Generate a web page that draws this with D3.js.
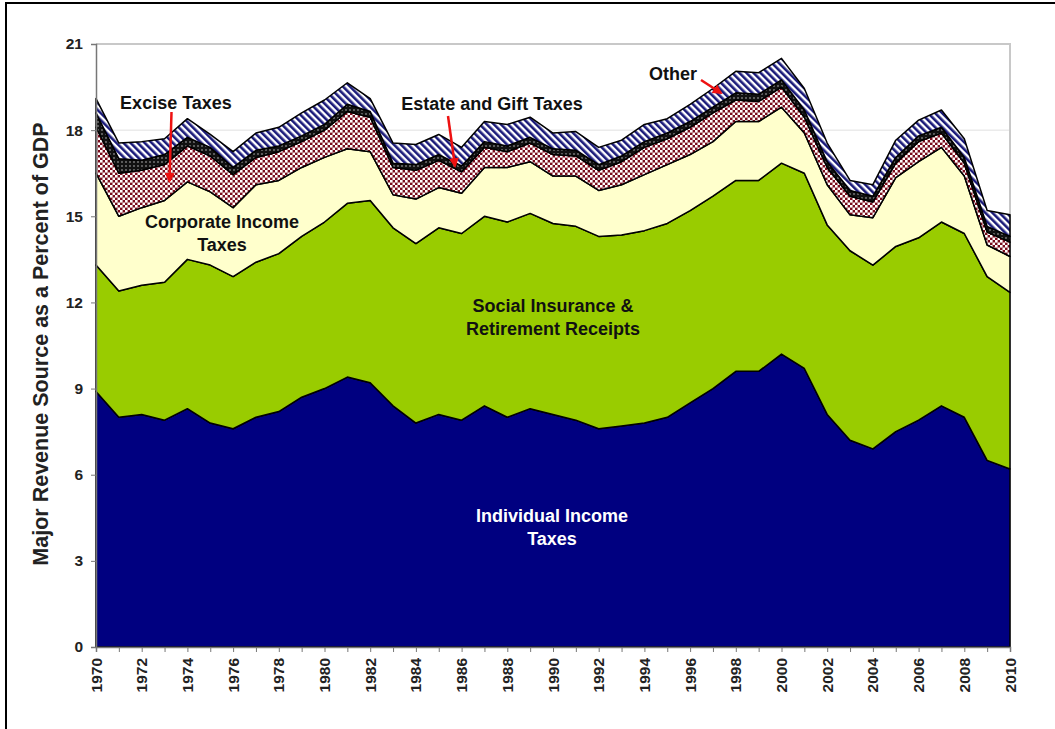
<!DOCTYPE html>
<html>
<head>
<meta charset="utf-8">
<script src="https://cdn.jsdelivr.net/npm/d3@7"></script>
<style>
  body { margin: 0; background: #fff; }
  svg { display: block; font-family: "Liberation Sans", Arial, sans-serif; }
</style>
</head>
<body>
<svg id="chart" width="1055" height="729"></svg>
<script>
// revenue sources, percent of GDP, 1970-2010
const years = d3.range(1970, 2011);
const individual = [8.9,8.0,8.1,7.9,8.3,7.8,7.6,8.0,8.2,8.7, 9.0,9.4,9.2,8.4,7.8,8.1,7.9,8.4,8.0,8.3,
  8.1,7.9,7.6,7.7,7.8,8.0,8.5,9.0,9.6,9.6, 10.2,9.7,8.1,7.2,6.9,7.5,7.9,8.4,8.0,6.5, 6.2];
const social = [4.4,4.4,4.5,4.8,5.2,5.5,5.3,5.4,5.5,5.6, 5.8,6.05,6.35,6.2,6.25,6.5,6.5,6.6,6.8,6.8,
  6.65,6.75,6.7,6.65,6.7,6.75,6.7,6.7,6.65,6.65, 6.65,6.8,6.6,6.6,6.4,6.45,6.35,6.4,6.4,6.4, 6.15];
const corporate = [3.2,2.6,2.7,2.85,2.7,2.55,2.4,2.7,2.55,2.4, 2.25,1.9,1.7,1.15,1.55,1.4,1.4,1.7,1.9,1.8,
  1.65,1.75,1.6,1.75,1.95,2.05,1.95,1.9,2.05,2.05, 1.95,1.4,1.4,1.25,1.65,2.4,2.65,2.6,2.0,1.1, 1.25];
const excise = [1.6,1.5,1.3,1.25,1.25,1.25,1.15,0.95,1.0,0.9, 0.95,1.3,1.2,0.95,1.0,0.95,0.75,0.7,0.55,0.65,
  0.75,0.7,0.7,0.8,0.95,0.9,0.95,1.0,0.75,0.7, 0.7,0.55,0.6,0.65,0.55,0.5,0.7,0.5,0.45,0.45, 0.5];
const estate = [0.5,0.5,0.35,0.35,0.3,0.3,0.25,0.25,0.2,0.2, 0.2,0.25,0.2,0.15,0.2,0.2,0.2,0.2,0.2,0.2,
  0.2,0.2,0.2,0.2,0.2,0.2,0.2,0.2,0.25,0.25, 0.25,0.25,0.2,0.2,0.2,0.2,0.2,0.2,0.2,0.2, 0.2];
const other = [0.5,0.55,0.65,0.55,0.65,0.45,0.55,0.6,0.65,0.8, 0.85,0.75,0.45,0.7,0.7,0.7,0.65,0.7,0.75,0.7,
  0.55,0.65,0.6,0.55,0.6,0.5,0.6,0.65,0.75,0.75, 0.75,0.75,0.65,0.35,0.4,0.6,0.55,0.6,0.65,0.55, 0.75];

const keys = ['individual', 'social', 'corporate', 'excise', 'estate', 'other'];
const series = {individual, social, corporate, excise, estate, other};
const yTicks = [0, 3, 6, 9, 12, 15, 18, 21];
const xLabels = d3.range(1970, 2011, 2);

const fills = {
  individual: '#000080',
  social: '#99cc00',
  corporate: '#ffffcc',
  excise: 'url(#checker)',
  estate: 'url(#dots)',
  other: 'url(#stripes)'
};

const rows = years.map((yr, i) => {
  const r = {year: yr};
  keys.forEach(k => { r[k] = series[k][i]; });
  return r;
});

const svg = d3.select('#chart');
const margin = {left: 96, right: 1010, top: 44, bottom: 647};

const x = d3.scaleLinear().domain([1970, 2010]).range([margin.left, margin.right]);
const y = d3.scaleLinear().domain([0, 21]).range([margin.bottom, margin.top]);

// patterns
const defs = svg.append('defs');
const chk = defs.append('pattern').attr('id', 'checker')
  .attr('patternUnits', 'userSpaceOnUse').attr('width', 5).attr('height', 5);
chk.append('rect').attr('width', 5).attr('height', 5).attr('fill', '#7a0c1c');
chk.append('rect').attr('width', 2.6).attr('height', 2.6).attr('fill', '#fff');
chk.append('rect').attr('x', 2.5).attr('y', 2.5).attr('width', 2.6).attr('height', 2.6).attr('fill', '#fff');

const dots = defs.append('pattern').attr('id', 'dots')
  .attr('patternUnits', 'userSpaceOnUse').attr('width', 4).attr('height', 4);
dots.append('rect').attr('width', 4).attr('height', 4).attr('fill', '#111');
dots.append('circle').attr('cx', 2).attr('cy', 2).attr('r', 0.7).attr('fill', '#ddd');

const stripes = defs.append('pattern').attr('id', 'stripes')
  .attr('patternUnits', 'userSpaceOnUse').attr('width', 5).attr('height', 5)
  .attr('patternTransform', 'rotate(-45)');
stripes.append('rect').attr('width', 5).attr('height', 5).attr('fill', '#fff');
stripes.append('rect').attr('width', 2.6).attr('height', 5).attr('fill', '#1a1a7a');

// outer frame
svg.append('rect').attr('x', 6).attr('y', 3).attr('width', 1100).attr('height', 800)
  .attr('fill', 'none').attr('stroke', '#000').attr('stroke-width', 2);

// gridlines
svg.append('g').selectAll('line').data(yTicks.slice(1)).join('line')
  .attr('x1', margin.left).attr('x2', margin.right)
  .attr('y1', d => y(d)).attr('y2', d => y(d))
  .attr('stroke', '#e0e0e0').attr('stroke-width', 1);

// plot frame top/right
svg.append('path')
  .attr('d', `M${margin.left},${margin.top}H${margin.right}V${margin.bottom}`)
  .attr('fill', 'none').attr('stroke', '#c8c8c8').attr('stroke-width', 2);

// stacked areas
const stack = d3.stack().keys(keys);
const layers = stack(rows);
const area = d3.area()
  .x(d => x(d.data.year))
  .y0(d => y(d[0]))
  .y1(d => y(d[1]));

svg.append('g').selectAll('path').data(layers).join('path')
  .attr('d', area)
  .attr('fill', d => fills[d.key])
  .attr('stroke', '#000')
  .attr('stroke-width', 1.5)
  .attr('stroke-linejoin', 'round');

// axes
const yAxis = d3.axisLeft(y).tickValues(yTicks).tickSize(5).tickPadding(8);
const gy = svg.append('g').attr('transform', `translate(${margin.left},0)`).call(yAxis);
gy.select('.domain').attr('stroke', '#777').attr('stroke-width', 1.5);
gy.selectAll('.tick line').attr('stroke', '#777');
gy.selectAll('.tick text').attr('font-size', 15.5).attr('font-weight', 'bold')
  .attr('font-family', '"Liberation Sans", Arial, sans-serif').attr('fill', '#222');

const xAxis = d3.axisBottom(x).tickValues(years).tickSize(5).tickFormat('');
const gx = svg.append('g').attr('transform', `translate(0,${margin.bottom})`).call(xAxis);
gx.select('.domain').attr('stroke', '#777').attr('stroke-width', 1.5);
gx.selectAll('.tick line').attr('stroke', '#777');

svg.append('g').selectAll('text').data(xLabels).join('text')
  .attr('transform', d => `translate(${x(d) + 5.5},${margin.bottom + 11}) rotate(-90)`)
  .attr('text-anchor', 'end')
  .attr('font-size', 15.5).attr('font-weight', 'bold').attr('fill', '#222')
  .text(d => d);

// y title
svg.append('text')
  .attr('transform', 'translate(48,344) rotate(-90)')
  .attr('text-anchor', 'middle')
  .attr('font-size', 21.5).attr('font-weight', 'bold').attr('fill', '#222')
  .text('Major Revenue Source as a Percent of GDP');

// labels inside areas
const labels = [
  {lines: ['Corporate Income', 'Taxes'], x: 222, y: 222, color: '#111'},
  {lines: ['Social Insurance &', 'Retirement Receipts'], x: 553, y: 306, color: '#111'},
  {lines: ['Individual Income', 'Taxes'], x: 552, y: 516, color: '#fff'}
];
labels.forEach(l => {
  const t = svg.append('text').attr('text-anchor', 'middle')
    .attr('font-size', 18).attr('font-weight', 'bold').attr('fill', l.color);
  l.lines.forEach((s, i) => {
    t.append('tspan').attr('x', l.x).attr('y', l.y + i * 23).attr('dy', '0.35em').text(s);
  });
});

// callouts with red arrows
defs.append('marker').attr('id', 'arrow').attr('viewBox', '0 0 10 10')
  .attr('refX', 8).attr('refY', 5).attr('markerWidth', 4).attr('markerHeight', 4)
  .attr('orient', 'auto')
  .append('path').attr('d', 'M0,0L10,5L0,10z').attr('fill', '#ee1111');

const callouts = [
  {text: 'Excise Taxes', tx: 176, ty: 103, from: [171.5, 112], to: [169.5, 181]},
  {text: 'Estate and Gift Taxes', tx: 492, ty: 104, from: [448, 116], to: [455, 166]},
  {text: 'Other', tx: 673, ty: 74, from: [701, 80], to: [721, 93]}
];
callouts.forEach(c => {
  svg.append('text').attr('x', c.tx).attr('y', c.ty).attr('dy', '0.35em')
    .attr('text-anchor', 'middle').attr('font-size', 18).attr('font-weight', 'bold')
    .attr('fill', '#111').text(c.text);
  svg.append('line')
    .attr('x1', c.from[0]).attr('y1', c.from[1]).attr('x2', c.to[0]).attr('y2', c.to[1])
    .attr('stroke', '#ee1111').attr('stroke-width', 2.5).attr('marker-end', 'url(#arrow)');
});
</script>
</body>
</html>
